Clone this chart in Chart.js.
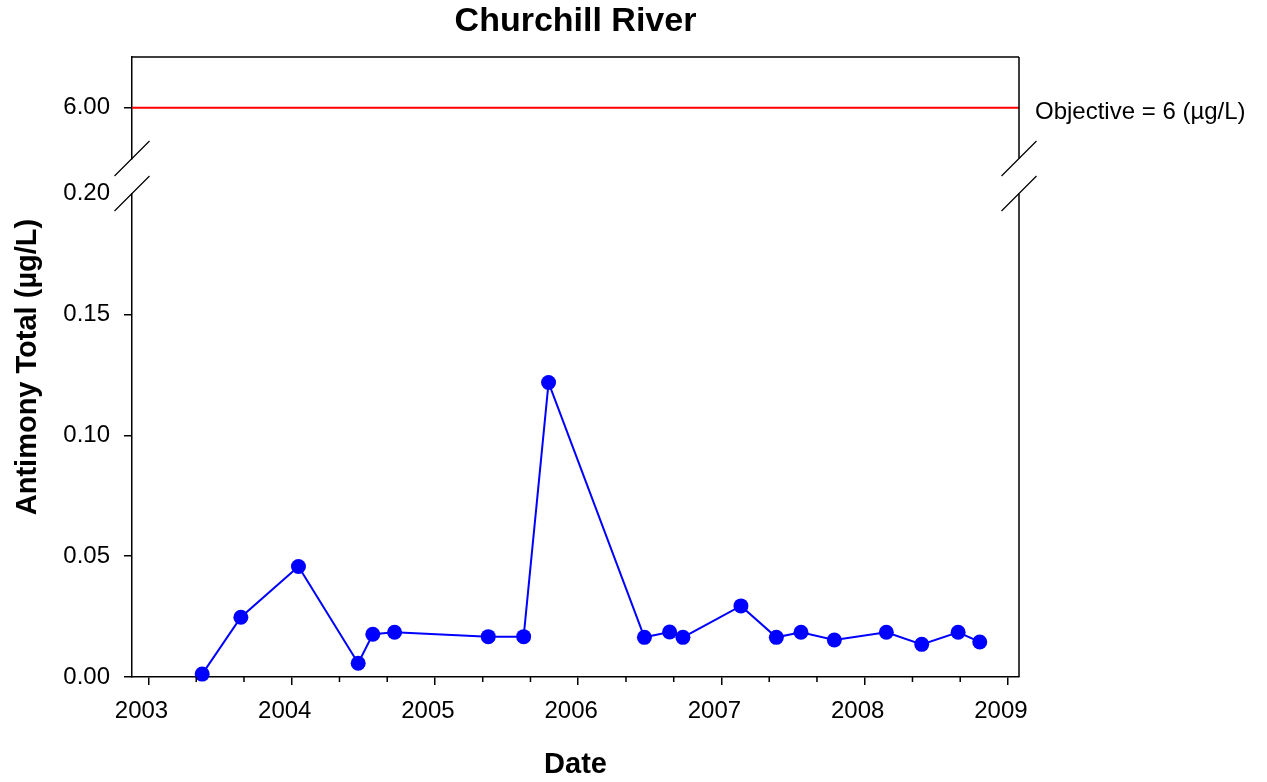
<!DOCTYPE html>
<html>
<head>
<meta charset="utf-8">
<script src="https://cdn.jsdelivr.net/npm/chart.js@4"></script>
<style>
  html, body { margin: 0; padding: 0; background: #fff; }
</style>
</head>
<body>
<canvas id="chart" width="1267" height="782"></canvas>
<script>
// Sample dates (decimal years) and antimony readings (µg/L)
const sampleDates = [2003.375, 2003.645, 2004.047, 2004.464, 2004.566, 2004.718, 2005.372, 2005.619, 2005.793,
    2006.462, 2006.638, 2006.731, 2007.136, 2007.383, 2007.555, 2007.788, 2008.151, 2008.398, 2008.652, 2008.803];
const antimony = [0.0012, 0.0247, 0.0457, 0.0057, 0.0177, 0.0185, 0.0167, 0.0167, 0.1218,
    0.0164, 0.0186, 0.0164, 0.0294, 0.0164, 0.0185, 0.0153, 0.0185, 0.0135, 0.0185, 0.0145];
const objective = 6;
const objectiveLabel = 'Objective = 6 (µg/L)';
const yearTicks = [2003, 2004, 2005, 2006, 2007, 2008, 2009];
const lowTicks = [0, 0.05, 0.10, 0.15, 0.20];
const xRange = [2002.885, 2009.077];
const lowRange = [0, 0.2];
const topRange = [5.5, 6.5];

// minor ticks every 4 months
const minorTicks = [];
yearTicks.slice(0, -1).forEach(y => minorTicks.push(y + 1 / 3, y + 2 / 3));
const xTickValues = yearTicks.concat(minorTicks).sort((a, b) => a - b);

const BLACK = '#000';
const CLEAR = 'rgba(0,0,0,0)';
Chart.defaults.font.family = '"Liberation Sans", Arial, sans-serif';
Chart.defaults.color = BLACK;

// frame, axis breaks, minor ticks, objective label, y title
const framePlugin = {
    id: 'frame',
    afterDraw(chart) {
        const { ctx, chartArea: a, scales } = chart;
        const top = scales.yTop, low = scales.yLow, x = scales.x;
        ctx.save();
        ctx.strokeStyle = BLACK;
        ctx.lineWidth = 1.5;
        ctx.beginPath();
        ctx.moveTo(a.left, a.top);
        ctx.lineTo(a.right, a.top);
        ctx.moveTo(a.right, a.top);
        ctx.lineTo(a.right, top.bottom);
        ctx.moveTo(a.right, low.top);
        ctx.lineTo(a.right, a.bottom);
        minorTicks.forEach(v => {
            const px = x.getPixelForValue(v);
            ctx.moveTo(px, a.bottom);
            ctx.lineTo(px, a.bottom + 5);
        });
        ctx.stroke();

        ctx.lineWidth = 1.2;
        ctx.beginPath();
        [a.left, a.right].forEach(ex => {
            [top.bottom, low.top].forEach(ey => {
                ctx.moveTo(ex - 17.5, ey + 17.5);
                ctx.lineTo(ex + 17.5, ey - 17.5);
            });
        });
        ctx.stroke();

        ctx.fillStyle = BLACK;
        ctx.font = '24px "Liberation Sans", Arial, sans-serif';
        ctx.textAlign = 'left';
        ctx.textBaseline = 'middle';
        ctx.fillText(objectiveLabel, a.right + 16, top.getPixelForValue(objective) + 5);

        ctx.font = 'bold 29px "Liberation Sans", Arial, sans-serif';
        ctx.textAlign = 'center';
        ctx.translate(28, (a.top + a.bottom) / 2);
        ctx.rotate(-Math.PI / 2);
        ctx.fillText('Antimony Total (µg/L)', 0, 0);
        ctx.restore();
    }
};

const yCommon = {
    type: 'linear',
    position: 'left',
    stack: 'left',
    afterFit: s => { s.width = 132; },
    border: { color: BLACK, width: 1.5 },
    ticks: { color: BLACK, font: { size: 24 }, padding: 14, callback: v => Number(v).toFixed(2) }
};

const chart = new Chart(document.getElementById('chart'), {
    type: 'line',
    data: {
        datasets: [
            {
                label: 'Antimony Total',
                data: sampleDates.map((d, i) => ({ x: d, y: antimony[i] })),
                xAxisID: 'x',
                yAxisID: 'yLow',
                borderColor: '#0000ff',
                backgroundColor: '#0000ff',
                borderWidth: 2,
                pointRadius: 7.5,
                pointBorderWidth: 0,
                pointBackgroundColor: '#0000ff',
                tension: 0,
                clip: false
            },
            {
                label: 'Objective',
                data: xRange.map(d => ({ x: d, y: objective })),
                xAxisID: 'x',
                yAxisID: 'yTop',
                borderColor: '#ff0000',
                borderWidth: 2,
                pointRadius: 0
            }
        ]
    },
    options: {
        responsive: false,
        animation: false,
        devicePixelRatio: 1,
        layout: { padding: { left: 0, right: 248, top: 0, bottom: 0 } },
        plugins: {
            legend: { display: false },
            tooltip: { enabled: false },
            title: {
                display: true,
                fullSize: false,
                text: 'Churchill River',
                color: BLACK,
                font: { size: 34, weight: 'bold' },
                padding: { top: 1, bottom: 15.2 }
            }
        },
        scales: {
            x: {
                type: 'linear',
                min: xRange[0],
                max: xRange[1],
                afterBuildTicks: s => { s.ticks = xTickValues.map(v => ({ value: v })); },
                afterFit: s => { s.height = 105; },
                grid: {
                    drawOnChartArea: false,
                    tickLength: 8,
                    lineWidth: 1.5,
                    color: c => (c.tick && Number.isInteger(c.tick.value)) ? BLACK : CLEAR
                },
                border: { color: BLACK, width: 1.5 },
                ticks: {
                    autoSkip: false,
                    maxRotation: 0,
                    padding: 12,
                    labelOffset: -7,
                    color: BLACK,
                    font: { size: 24 },
                    callback: v => Number.isInteger(v) ? String(v) : ''
                },
                title: {
                    display: true,
                    text: 'Date',
                    color: BLACK,
                    font: { size: 29, weight: 'bold' },
                    padding: { top: 0, bottom: 0 }
                }
            },
            yLow: Object.assign({}, yCommon, {
                min: lowRange[0],
                max: lowRange[1],
                stackWeight: 483.5,
                afterBuildTicks: s => { s.ticks = lowTicks.map(v => ({ value: v })); },
                grid: {
                    drawOnChartArea: false,
                    tickLength: 8,
                    lineWidth: 1.5,
                    color: c => (c.tick && c.tick.value >= lowRange[1] - 1e-9) ? CLEAR : BLACK
                }
            }),
            yGap: Object.assign({}, yCommon, {
                min: 0,
                max: 1,
                stackWeight: 35,
                border: { display: false },
                grid: { display: false },
                ticks: { display: false }
            }),
            yTop: Object.assign({}, yCommon, {
                min: topRange[0],
                max: topRange[1],
                stackWeight: 101.5,
                afterBuildTicks: s => { s.ticks = [{ value: objective }]; },
                grid: { drawOnChartArea: false, tickLength: 8, lineWidth: 1.5, color: BLACK }
            })
        }
    },
    plugins: [framePlugin]
});
</script>
</body>
</html>
